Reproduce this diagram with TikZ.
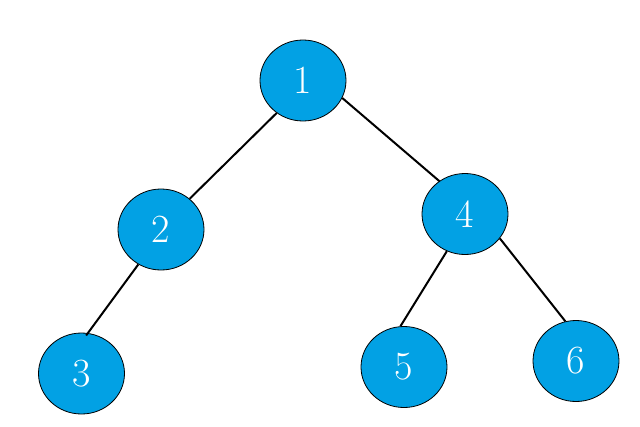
\documentclass[tikz,border=0pt]{standalone}
\usetikzlibrary{shapes.geometric}
\definecolor{nodeblue}{RGB}{2,161,228}
\begin{document}
\begin{tikzpicture}[x=1pt,y=-1pt,
  tnode/.style={ellipse,draw=black,line width=0.8pt,fill=nodeblue,minimum width=86pt,minimum height=81pt,inner sep=0pt,text=white,font=\fontsize{40}{48}\selectfont},
  edge/.style={draw=black,line width=2pt}]
\useasboundingbox (0,0) rectangle (640,426);
\node[tnode] (n1) at (303,80.5) {1};
\node[tnode] (n2) at (161,229.5) {2};
\node[tnode] (n4) at (465,214) {4};
\node[tnode] (n3) at (81.5,373.5) {3};
\node[tnode] (n5) at (404,367) {5};
\node[tnode] (n6) at (576,361) {6};
\draw[edge] (n1.231.6) -- (n2.47.4);
\draw[edge] (n1.-24.7) -- (n4.128);
\draw[edge,shorten >=-3pt] (n2.237.8) -- (n3.81.7);
\draw[edge] (n4.244) -- (n5.95.6);
\draw[edge] (n4.-35.2) -- (n6.105.8);
\end{tikzpicture}
\end{document}
